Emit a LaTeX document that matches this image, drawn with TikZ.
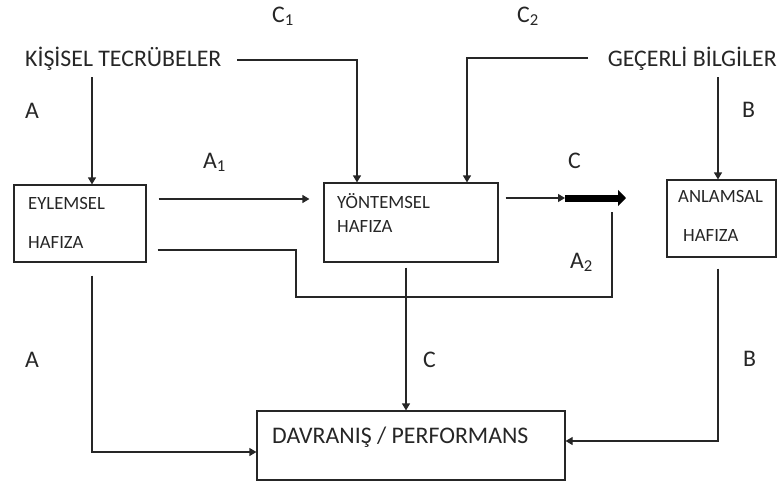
\documentclass[tikz,border=0pt]{standalone}
\usepackage{fontspec}
\setmainfont{Carlito}
\usetikzlibrary{arrows.meta,calc}
\begin{document}
\begin{tikzpicture}[x=1pt,y=-1pt,
  box/.style={draw=black!85,line width=1.2pt,rectangle,inner sep=0pt},
  big/.style={inner sep=0pt,text=black!85,font=\fontsize{23.8}{28}\selectfont},
  small/.style={inner sep=0pt,text=black!85,font=\fontsize{18.7}{22}\selectfont},
  line/.style={draw=black!85,line width=1.2pt},
  arr/.style={line,-{Triangle[length=7pt,width=8pt]}}]
\useasboundingbox (0,0) rectangle (777,483);
% boxes
\node[box,minimum width=132pt,minimum height=77pt] (eyl) at (80,223.5) {};
\node[box,minimum width=174pt,minimum height=79pt] (yon) at (411,222.5) {};
\node[box,minimum width=109pt,minimum height=77pt] (anl) at (721.5,218.5) {};
\node[box,minimum width=308pt,minimum height=69pt] (dav) at (411,445.5) {};
% box texts
\node[small,anchor=base west] (eyl1) at (28,209) {EYLEMSEL};
\node[small,anchor=base west] (eyl2) at (28,248) {HAFIZA};
\node[small,anchor=base west] (yon1) at (337,208) {YÖNTEMSEL};
\node[small,anchor=base west] (yon2) at (337,232) {HAFIZA};
\node[small,anchor=base west] (anl1) at (678,202) {ANLAMSAL};
\node[small,anchor=base west] (anl2) at (683,241) {HAFIZA};
\node[big,anchor=base west] (dav1) at (272,443) {DAVRANIŞ / PERFORMANS};
% source texts
\node[big,anchor=base west] (kis) at (25,66) {KİŞİSEL TECRÜBELER};
\node[big,anchor=base east] (gec) at (777,66) {GEÇERLİ BİLGİLER};
% labels
\node[big,anchor=base west] (lc1) at (272,22) {C\textsubscript{1}};
\node[big,anchor=base west] (lc2) at (517,22) {C\textsubscript{2}};
\node[big,anchor=base west] (la) at (25,118) {A};
\node[big,anchor=base west] (lb) at (742,117) {B};
\node[big,anchor=base west] (la1) at (203,168) {A\textsubscript{1}};
\node[big,anchor=base west] (lc) at (568,168) {C};
\node[big,anchor=base west] (la2) at (570,268) {A\textsubscript{2}};
\node[big,anchor=base west] (la3) at (25,367) {A};
\node[big,anchor=base west] (lc3) at (423,367) {C};
\node[big,anchor=base west] (lb3) at (743,366) {B};
% helper coordinates
\coordinate (k1) at (92,77);
\coordinate (k2) at (237,60);
\coordinate (k3) at (357,60);
\coordinate (g1) at (588,58);
\coordinate (g2) at (467,58);
\coordinate (g3) at (718,77);
\coordinate (ya1) at (0,199);
\coordinate (y250) at (0,250);
\coordinate (x296) at (296,0);
\coordinate (a2e) at (612,212);
\coordinate (y297) at (0,297);
\coordinate (th1) at (565,198);
\coordinate (th2) at (626,198);
\coordinate (cx) at (406,0);
\coordinate (y452) at (0,452);
\coordinate (y441) at (0,441);
% connectors
\draw[arr] (k1) -- (k1 |- eyl.north);
\draw[arr] (k2) -- (k3) -- (k3 |- yon.north);
\draw[arr] (g1) -- (g2) -- (g2 |- yon.north);
\draw[arr] (g3) -- (g3 |- anl.north);
\draw[arr,shorten <=12pt,shorten >=14pt] (eyl.east |- ya1) -- (yon.west |- ya1);
\draw[line,shorten <=11pt] (eyl.east |- y250) -- (x296 |- y250) -- (x296 |- y297) -- (a2e |- y297) -- (a2e);
\draw[arr,shorten <=7pt] (yon.east |- th1) -- (th1);
\draw[draw=black,line width=7pt,-{Triangle[length=8pt,width=16pt]}] (th1) -- (th2);
\draw[arr,shorten <=5pt] (yon.south -| cx) -- (dav.north -| cx);
\draw[arr,shorten <=13pt] (eyl.south -| k1) |- (dav.west |- y452);
\draw[arr,shorten <=11pt] (anl.south -| g3) |- (dav.east |- y441);
\end{tikzpicture}
\end{document}
